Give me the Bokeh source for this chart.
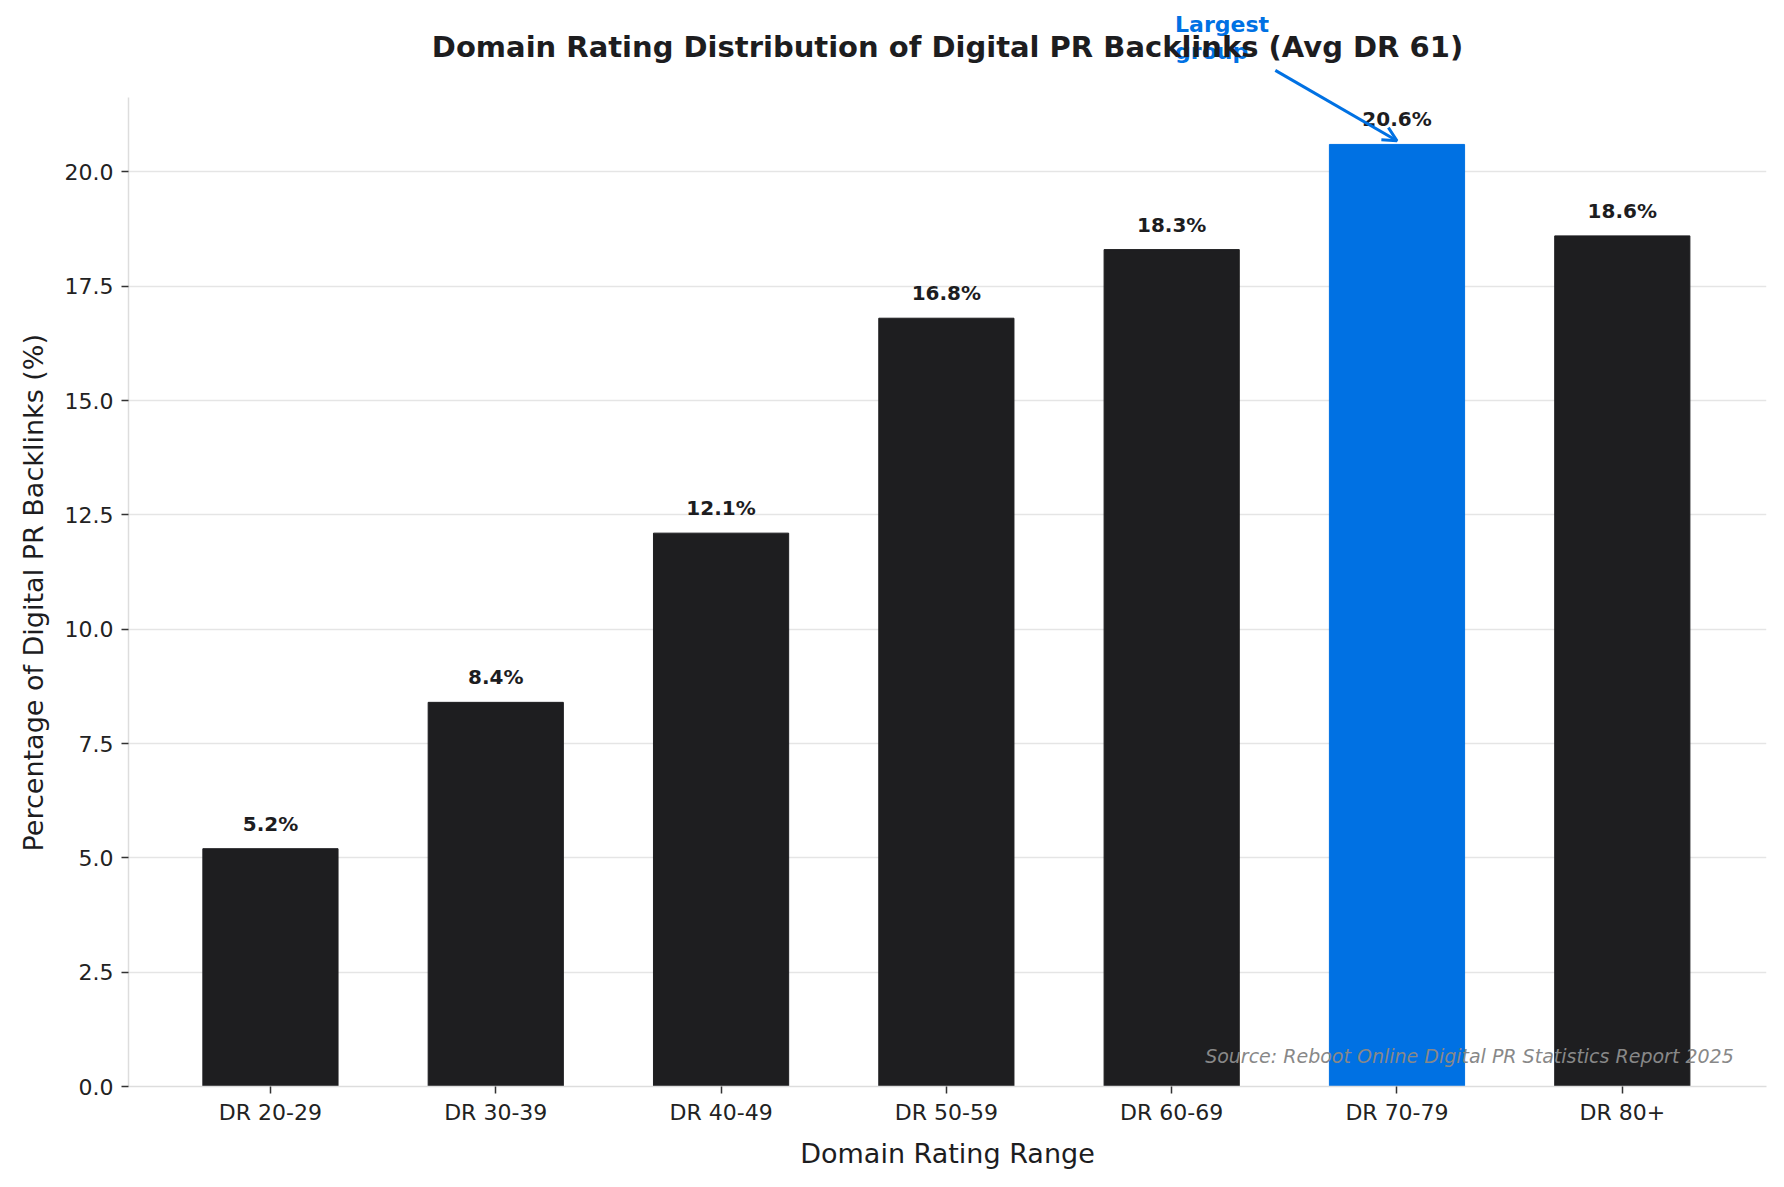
from bokeh.plotting import figure
from bokeh.models import ColumnDataSource, Range1d, FixedTicker, Label, Arrow, OpenHead, NumeralTickFormatter, Title
from bokeh.core.properties import value
from bokeh.embed import file_html
from bokeh.resources import INLINE

categories = ["DR 20-29", "DR 30-39", "DR 40-49", "DR 50-59", "DR 60-69", "DR 70-79", "DR 80+"]
shares = [5.2, 8.4, 12.1, 16.8, 18.3, 20.6, 18.6]
y_ticks = [0.0, 2.5, 5.0, 7.5, 10.0, 12.5, 15.0, 17.5, 20.0]

title = "Domain Rating Distribution of Digital PR Backlinks (Avg DR 61)"
source_note = "Source: Reboot Online Digital PR Statistics Report 2025"

DARK = "#1e1e20"
BLUE = "#0071e3"
TEXT = "#1d1d1f"
FONT = "DejaVu Sans"

top = max(shares)
xs = list(range(len(categories)))
colors = [BLUE if v == top else DARK for v in shares]
labels = [f"{v:.1f}%" for v in shares]

src = ColumnDataSource(dict(x=xs, y=shares, color=colors, label=labels))

x_start, x_end = -0.63, len(categories) - 1 + 0.64
y_end = top * 1.05          # top of the axes box
frame_h = 1088              # the frame reaches the canvas top, so annotations above the axes are not clipped
axes_h = 991
view_top = y_end * frame_h / axes_h

p = figure(
    width=1768, height=1171,
    x_range=Range1d(x_start, x_end),
    y_range=Range1d(0, view_top),
    output_backend="svg",
    toolbar_location=None,
    min_border_left=128, min_border_right=2,
    min_border_top=0, min_border_bottom=83,
)
p.outline_line_color = None
p.background_fill_color = "white"

p.vbar(x="x", top="y", width=0.6, color="color", source=src)

p.text(x="x", y="y", text="label", source=src,
       text_font=value(FONT), text_font_size="20px", text_font_style="bold",
       text_color=TEXT, text_align="center", text_baseline="alphabetic",
       y_offset=-25)

# axes
p.xaxis.ticker = FixedTicker(ticks=xs)
p.xaxis.major_label_overrides = {i: c for i, c in enumerate(categories)}
p.yaxis.ticker = FixedTicker(ticks=y_ticks)
p.yaxis.formatter = NumeralTickFormatter(format="0.0")
p.yaxis.bounds = (0, y_end)

for ax in (p.xaxis, p.yaxis):
    ax.axis_line_color = "#dddddd"
    ax.axis_line_width = 1.5
    ax.major_tick_line_color = "#333333"
    ax.major_tick_line_width = 1.5
    ax.major_tick_out = 7
    ax.major_tick_in = 0
    ax.minor_tick_line_color = None
    ax.major_label_text_font = FONT
    ax.major_label_text_font_size = "22px"
    ax.major_label_text_color = "#222222"
    ax.axis_label_text_font = FONT
    ax.axis_label_text_font_size = "27px"
    ax.axis_label_text_font_style = "normal"
    ax.axis_label_text_color = TEXT

p.xaxis.axis_label = "Domain Rating Range"
p.xaxis.major_label_standoff = 6
p.yaxis.major_label_standoff = 8
p.xaxis.axis_label_standoff = 10

# y label as a left title, placed along the axes box rather than the taller frame
p.add_layout(Title(text="Percentage of Digital PR Backlinks (%)", align="left",
                   offset=235, standoff=26, text_font=FONT, text_font_size="27px",
                   text_font_style="normal", text_color=TEXT, text_line_height=1.0), "left")

p.xgrid.grid_line_color = None
p.ygrid.grid_line_color = "#e5e5e5"
p.ygrid.grid_line_width = 1.5
p.ygrid.ticker = FixedTicker(ticks=y_ticks)

# annotation for the largest group
i_top = shares.index(top)
p.add_layout(Label(x=4.015, y=23.22, text="Largest", text_font=FONT, text_font_size="22px",
                   text_font_style="bold", text_color=BLUE, text_baseline="alphabetic"))
p.add_layout(Label(x=4.015, y=22.64, text="group", text_font=FONT, text_font_size="22px",
                   text_font_style="bold", text_color=BLUE, text_baseline="alphabetic"))
p.add_layout(Arrow(end=OpenHead(size=14, line_color=BLUE, line_width=3),
                   x_start=4.46, y_start=22.22, x_end=i_top, y_end=top + 0.08,
                   line_color=BLUE, line_width=3))

# title, drawn above the axes box
p.add_layout(Label(x=(x_start + x_end) / 2, y=y_end + 1.09, text=title,
                   text_font=FONT, text_font_size="29px", text_font_style="bold",
                   text_color=TEXT, text_align="center", text_baseline="alphabetic"))

# source note
p.add_layout(Label(x=x_start + 0.98 * (x_end - x_start), y=0.02 * y_end,
                   text=source_note,
                   text_font=FONT, text_font_size="19px", text_font_style="italic",
                   text_color="#888888", text_align="right", text_baseline="bottom"))

open("out.html", "w").write(file_html(p, INLINE))
